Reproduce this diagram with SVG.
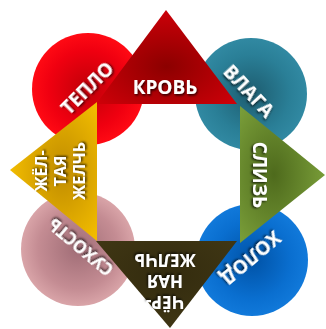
<svg xmlns="http://www.w3.org/2000/svg" width="326" height="329" viewBox="0 0 326 329">
<defs>
<radialGradient id="gRed"><stop offset="0" stop-color="#c00008"/><stop offset="0.7" stop-color="#f00010"/><stop offset="1" stop-color="#ff0a14"/></radialGradient>
<radialGradient id="gTeal"><stop offset="0" stop-color="#1d5c6f"/><stop offset="0.7" stop-color="#2a7f97"/><stop offset="1" stop-color="#3189a2"/></radialGradient>
<radialGradient id="gPink"><stop offset="0" stop-color="#a06d76"/><stop offset="0.7" stop-color="#c48c93"/><stop offset="1" stop-color="#d9a4a8"/></radialGradient>
<radialGradient id="gBlue"><stop offset="0" stop-color="#0052a6"/><stop offset="0.7" stop-color="#0a6fd0"/><stop offset="1" stop-color="#1179da"/></radialGradient>
<radialGradient id="gTriRed" cx="0.5" cy="0.6" r="0.6"><stop offset="0" stop-color="#8c0000"/><stop offset="1" stop-color="#cc0008"/></radialGradient>
<radialGradient id="gTriGreen" cx="0.4" cy="0.5" r="0.6"><stop offset="0" stop-color="#4e6a1c"/><stop offset="1" stop-color="#789c38"/></radialGradient>
<radialGradient id="gTriYellow" cx="0.6" cy="0.5" r="0.6"><stop offset="0" stop-color="#c08c00"/><stop offset="1" stop-color="#f2bc00"/></radialGradient>
<radialGradient id="gTriDark" cx="0.5" cy="0.4" r="0.6"><stop offset="0" stop-color="#332b0e"/><stop offset="1" stop-color="#3f3614"/></radialGradient>
<filter id="sh" x="-20%" y="-20%" width="140%" height="140%"><feDropShadow dx="1" dy="1.5" stdDeviation="1" flood-color="#000" flood-opacity="0.75"/></filter>
</defs>
<style>
text{font-family:"Open Sans","DejaVu Sans",sans-serif;font-weight:bold;fill:#fff;text-anchor:middle;filter:url(#sh)}
.t{font-size:19px}
.s{font-size:17px}
.m{font-size:16px}
</style>
<g id="circle-teplo"><circle cx="88" cy="89" r="56" fill="url(#gRed)"/><text class="t" transform="translate(87,88) rotate(-45)" y="7">ТЕПЛО</text></g>
<g id="circle-vlaga"><circle cx="251" cy="94" r="56" fill="url(#gTeal)"/><text class="t" transform="translate(249,91) rotate(47)" y="7">ВЛАГА</text></g>
<g id="circle-suhost"><circle cx="78" cy="249" r="57" fill="url(#gPink)"/><text class="s" transform="translate(81,247) rotate(220)" y="6">СУХОСТЬ</text></g>
<g id="circle-holod"><circle cx="252" cy="260" r="56" fill="url(#gBlue)"/><text class="t" transform="translate(251,258) rotate(140)" y="7">ХОЛОД</text></g>
<g id="tri-krov"><polygon points="166,10 96,104 237,104" fill="url(#gTriRed)"/><text class="t" x="165" y="94">КРОВЬ</text></g>
<g id="tri-sliz"><polygon points="240,106 240,243 325,175" fill="url(#gTriGreen)"/><text class="t" transform="translate(260,175) rotate(90)" y="7">СЛИЗЬ</text></g>
<g id="tri-yellow"><polygon points="97,102 97,241 10,170" fill="url(#gTriYellow)"/><text class="m" transform="translate(60,171) rotate(-90)"><tspan x="0" y="-13">ЖЁЛ-</tspan><tspan x="0" y="6">ТАЯ</tspan><tspan x="0" y="25">ЖЕЛЧЬ</tspan></text></g>
<g id="tri-black"><polygon points="96,241 237,241 170,328" fill="url(#gTriDark)"/><text class="s" transform="translate(165,281) rotate(180)"><tspan x="0" y="-15">ЧЁР-</tspan><tspan x="0" y="6">НАЯ</tspan><tspan x="0" y="27">ЖЕЛЧЬ</tspan></text></g>
<g id="connectors"></g>
</svg>
